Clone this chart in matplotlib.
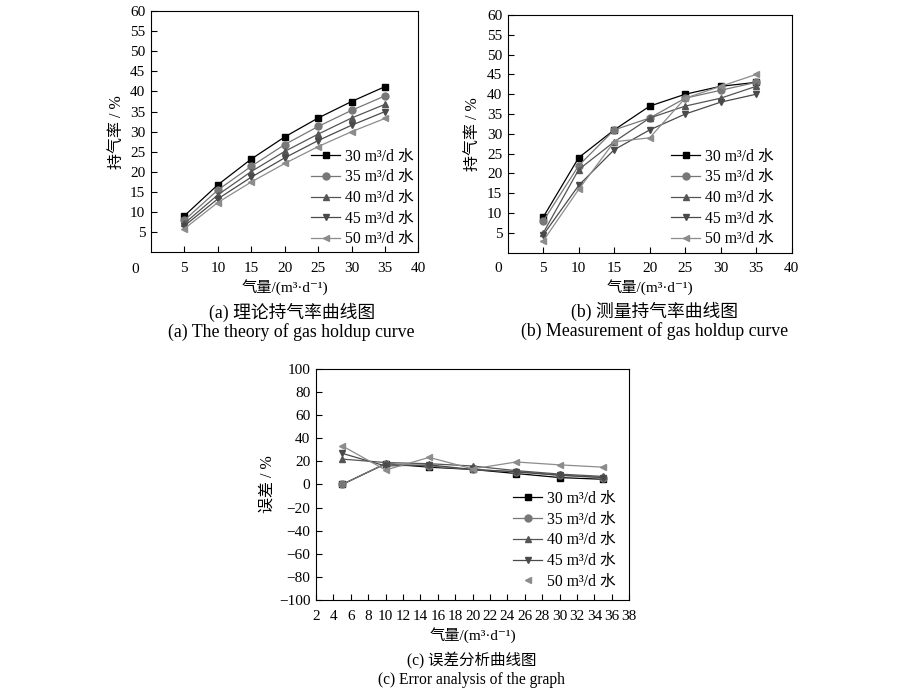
import matplotlib
matplotlib.use('Agg')
import matplotlib.pyplot as plt
from matplotlib.lines import Line2D

plt.rcParams['font.family'] = ['Liberation Serif', 'DejaVu Serif', 'Noto Sans CJK SC']
plt.rcParams['font.size'] = 11
plt.rcParams['axes.unicode_minus'] = True

# data
gas = [5, 10, 15, 20, 25, 30, 35]
series_names = ['30 m³/d 水', '35 m³/d 水', '40 m³/d 水', '45 m³/d 水', '50 m³/d 水']

theory_30 = [9.1, 16.8, 23.2, 28.7, 33.4, 37.5, 41.2]
theory_35 = [8.0, 15.5, 21.4, 26.8, 31.3, 35.3, 38.9]
theory_40 = [7.2, 14.3, 20.1, 25.1, 29.4, 33.4, 36.8]
theory_45 = [6.6, 13.3, 18.7, 23.5, 27.8, 31.6, 35.0]
theory_50 = [5.9, 12.4, 17.5, 22.1, 26.3, 30.0, 33.3]

meas_30 = [9, 24, 31, 37, 40, 42, 43]
meas_35 = [8, 22, 31, 34, 39, 41, 43]
meas_40 = [5, 21, 28, 34, 37, 39, 42]
meas_45 = [4.5, 17, 26, 31, 35, 38, 40]
meas_50 = [3, 16, 28, 29, 39, 42, 45]

err_30 = [0, 18, 15, 13, 9.5, 6, 4.5]
err_35 = [0, 18, 16, 13, 11, 8, 6]
err_40 = [22, 19, 18, 16, 12, 9, 7]
err_45 = [27, 16, 17, 13, 11, 8, 6]
err_50 = [33.5, 12.5, 23.5, 13.5, 19.5, 17, 15]

xlabel = '气量/(m³·d⁻¹)'
markers = ['s', 'o', '^', 'v', '<']
colors = ['#000000', '#777777', '#555555', '#4a4a4a', '#8c8c8c']
fs = 11

fig = plt.figure(figsize=(9, 6.91), dpi=100)

ax_a = fig.add_axes([0.1677, 0.6347, 0.2972, 0.3494])
ax_b = fig.add_axes([0.5642, 0.6343, 0.3154, 0.3440])
ax_c = fig.add_axes([0.3511, 0.1317, 0.3481, 0.3343])


def draw(ax, groups):
    for ys, m, c, name in zip(groups, markers, colors, series_names):
        ax.plot(gas, ys, color=c, marker=m, markersize=5, linewidth=0.9, label=name)
    ax.tick_params(direction='in', length=4, width=0.8, labelsize=fs)
    ax.tick_params(axis='x', pad=7)
    ax.tick_params(axis='y', pad=4)
    for s in ax.spines.values():
        s.set_linewidth(0.8)


leg_kw = dict(loc='upper left', frameon=False, handlelength=1.85, handletextpad=0.32,
              labelspacing=0.3, borderpad=0, borderaxespad=0, fontsize=11.3)

# (a) theory
draw(ax_a, [theory_30, theory_35, theory_40, theory_45, theory_50])
ax_a.set_xlim(0, 40)
ax_a.set_ylim(0, 60)
ax_a.set_xticks(range(5, 41, 5))
ax_a.set_yticks(range(5, 61, 5))
ax_a.text(-0.06, -0.07, '0', transform=ax_a.transAxes, ha='center', va='center', fontsize=fs)
ax_a.set_ylabel('持气率 / %', labelpad=4, fontsize=11.5)
ax_a.set_xlabel(xlabel, labelpad=3)
ax_a.legend(bbox_to_anchor=(0.60, 0.43), **leg_kw)
fig.text(0.324, 0.548, '(a) 理论持气率曲线图', ha='center', va='center', fontsize=12.8)
fig.text(0.324, 0.519, '(a) The theory of gas holdup curve', ha='center', va='center', fontsize=12.8)

# (b) measured
draw(ax_b, [meas_30, meas_35, meas_40, meas_45, meas_50])
ax_b.set_xlim(0, 40)
ax_b.set_ylim(0, 60)
ax_b.set_xticks(range(5, 41, 5))
ax_b.set_yticks(range(5, 61, 5))
ax_b.text(-0.035, -0.065, '0', transform=ax_b.transAxes, ha='center', va='center', fontsize=fs)
ax_b.set_ylabel('持气率 / %', labelpad=4, fontsize=11.5)
ax_b.set_xlabel(xlabel, labelpad=3)
ax_b.legend(bbox_to_anchor=(0.575, 0.438), **leg_kw)
fig.text(0.727, 0.549, '(b) 测量持气率曲线图', ha='center', va='center', fontsize=12.8)
fig.text(0.727, 0.521, '(b) Measurement of gas holdup curve', ha='center', va='center', fontsize=12.8)

# (c) error
draw(ax_c, [err_30, err_35, err_40, err_45, err_50])
ax_c.set_xlim(2, 38)
ax_c.set_ylim(-100, 100)
ax_c.set_xticks(range(2, 39, 2))
ax_c.set_yticks(range(-100, 101, 20))
ax_c.set_ylabel('误差 / %', labelpad=2, fontsize=11.5)
ax_c.set_xlabel(xlabel, labelpad=3)
handles = []
for i, (m, c, name) in enumerate(zip(markers, colors, series_names)):
    ls = 'none' if i == 4 else '-'
    handles.append(Line2D([], [], color=c, marker=m, markersize=5, linewidth=0.9, linestyle=ls, label=name))
ax_c.legend(handles=handles, bbox_to_anchor=(0.63, 0.472), **leg_kw)
fig.text(0.524, 0.043, '(c) 误差分析曲线图', ha='center', va='center', fontsize=11.2)
fig.text(0.524, 0.016, '(c) Error analysis of the graph', ha='center', va='center', fontsize=11.2)

fig.savefig('out.png', dpi=100)
